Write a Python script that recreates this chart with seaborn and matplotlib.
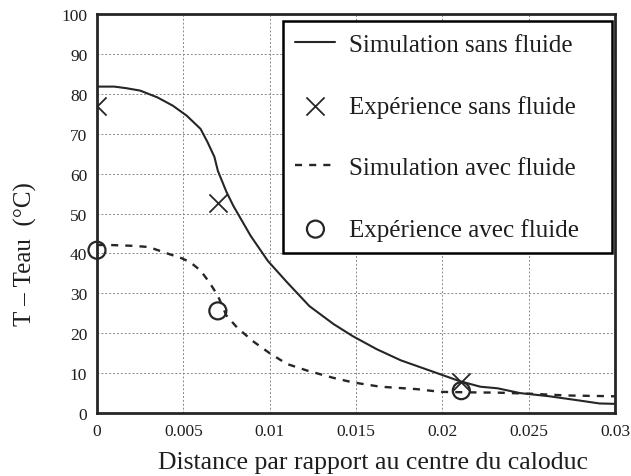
import numpy as np
import pandas as pd
import matplotlib
matplotlib.use("Agg")
import matplotlib.pyplot as plt
import seaborn as sns

# ==========================================
# DATA
# ==========================================

sim_sans_x = [0, 0.0010, 0.0017, 0.0025, 0.0035, 0.0044, 0.0052, 0.0060, 0.0064,
              0.0068, 0.0070, 0.0075, 0.0079, 0.0089, 0.0099, 0.0110, 0.0123,
              0.0137, 0.0148, 0.0162, 0.0176, 0.0195, 0.0210, 0.0222, 0.0232,
              0.0245, 0.0262, 0.0280, 0.0291, 0.0300]
sim_sans_y = [81.8, 81.8, 81.4, 80.8, 79.1, 77.0, 74.5, 71.2, 67.9,
              64.2, 60.7, 55.4, 51.9, 44.4, 38.1, 32.8, 26.8,
              22.3, 19.3, 16.0, 13.2, 10.3, 8.0, 6.6, 6.2,
              5.0, 4.2, 3.1, 2.4, 2.3]

sim_avec_x = [0, 0.0008, 0.0021, 0.0030, 0.0036, 0.0042, 0.0049, 0.0054, 0.0060,
              0.0065, 0.0070, 0.0075, 0.0081, 0.0090, 0.0100, 0.0110, 0.0122,
              0.0137, 0.0148, 0.0164, 0.0185, 0.0199, 0.0214, 0.0233, 0.0253,
              0.0272, 0.0300]
sim_avec_y = [42.1, 42.1, 41.9, 41.6, 40.7, 39.8, 38.8, 37.8, 35.7,
              32.8, 29.4, 24.4, 21.5, 18.1, 15.0, 12.3, 10.6,
              8.8, 7.7, 6.6, 6.0, 5.3, 5.2, 5.1, 4.8,
              4.4, 4.2]

exp_sans_x = [0, 0.0070, 0.0211]
exp_sans_y = [77.0, 52.6, 7.8]

exp_avec_x = [0, 0.0070, 0.0211]
exp_avec_y = [40.8, 25.6, 5.6]

x_ticks = [0, 0.005, 0.01, 0.015, 0.02, 0.025, 0.03]
x_tick_labels = ["0", "0.005", "0.01", "0.015", "0.02", "0.025", "0.03"]
y_ticks = [0, 10, 20, 30, 40, 50, 60, 70, 80, 90, 100]

# ==========================================
# STYLE
# ==========================================

sns.set_theme(style="white")
plt.rcParams["font.family"] = ["Liberation Serif", "DejaVu Serif"]

ink = "#262626"
txt = "#1e1e1e"

fig = plt.figure(figsize=(6.31, 4.77), dpi=100)
ax = fig.add_axes([0.1537, 0.132, 0.8209, 0.8366])

# ==========================================
# PLOT
# ==========================================

sns.lineplot(x=sim_sans_x, y=sim_sans_y, ax=ax, color=ink, linewidth=1.5,
             label="Simulation sans fluide")
sns.scatterplot(x=exp_sans_x, y=exp_sans_y, ax=ax, marker="x", s=170,
                color=ink, linewidth=1.3, label="Expérience sans fluide")
sns.lineplot(x=sim_avec_x, y=sim_avec_y, ax=ax, color=ink, linewidth=1.7,
             linestyle=(0, (3, 3)), label="Simulation avec fluide")
sns.scatterplot(x=exp_avec_x, y=exp_avec_y, ax=ax, marker="o", s=150,
                facecolor="none", edgecolor=ink, linewidth=1.6,
                label="Expérience avec fluide")
ax.collections[-1].set_clip_on(False)

ax.set_xlim(0, 0.03)
ax.set_ylim(0, 100)
ax.set_xticks(x_ticks)
ax.set_xticklabels(x_tick_labels)
ax.set_yticks(y_ticks)
ax.tick_params(axis="both", labelsize=12.5, colors=txt, length=0, pad=7)

ax.grid(True, color="#888888", linestyle=(0, (2, 2)), linewidth=0.7)
for sp in ax.spines.values():
    sp.set_color(ink)
    sp.set_linewidth(2)

ax.set_xlabel("Distance par rapport au centre du caloduc", fontsize=18.5, color=txt)
ax.set_ylabel("T – Teau  (°C)", fontsize=18, color=txt)
ax.xaxis.set_label_coords(0.533, -0.095)
ax.yaxis.set_label_coords(-0.115, 0.40)

leg = ax.legend(loc="upper left", bbox_to_anchor=(0.359, 0.0, 0.635, 0.9825),
                mode="expand", fontsize=18,
                frameon=True, fancybox=False, edgecolor="black",
                labelspacing=1.55, handlelength=1.6, handletextpad=0.55,
                borderpad=0.5, borderaxespad=0)
leg.get_frame().set_linewidth(1.8)
leg.get_frame().set_alpha(1)
for t in leg.get_texts():
    t.set_color(txt)

fig.savefig("out.png", dpi=100)
